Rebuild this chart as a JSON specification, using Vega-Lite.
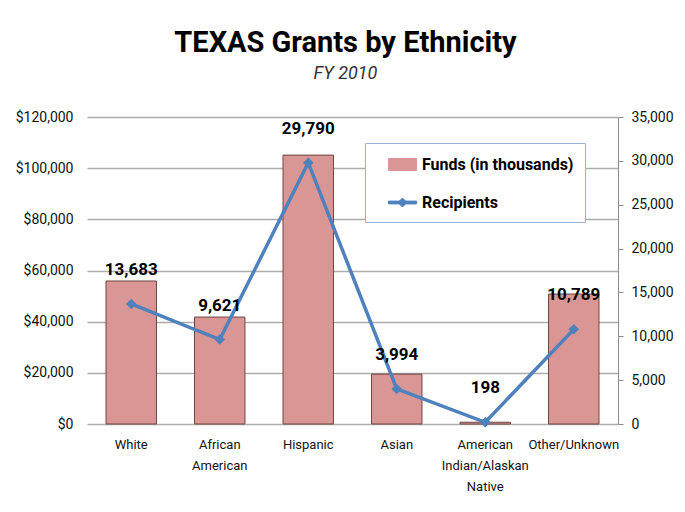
{
  "$schema": "https://vega.github.io/schema/vega-lite/v6.json",
  "width": 531,
  "height": 307,
  "autosize": {"type": "none"},
  "padding": {"left": 87, "top": 117, "right": 67, "bottom": 88},
  "background": "white",
  "title": {
    "text": "TEXAS Grants by Ethnicity",
    "subtitle": "FY 2010",
    "anchor": "middle",
    "dx": -7,
    "font": "Roboto",
    "fontSize": 29,
    "fontWeight": "bold",
    "color": "#000000",
    "subtitleFont": "Roboto",
    "subtitleFontSize": 18,
    "subtitleFontStyle": "italic",
    "subtitleColor": "#333333",
    "subtitlePadding": 7,
    "offset": 27
  },
  "data": {
    "values": [
      {"ethnicity": "White", "funds": 55900, "recipients": 13683},
      {"ethnicity": "African American", "funds": 41800, "recipients": 9621},
      {"ethnicity": "Hispanic", "funds": 105100, "recipients": 29790},
      {"ethnicity": "Asian", "funds": 19500, "recipients": 3994},
      {"ethnicity": "American Indian/Alaskan Native", "funds": 700, "recipients": 198},
      {"ethnicity": "Other/Unknown", "funds": 50800, "recipients": 10789}
    ]
  },
  "encoding": {
    "x": {
      "field": "ethnicity",
      "type": "nominal",
      "sort": null,
      "scale": {"paddingInner": 0.43, "paddingOuter": 0.215},
      "axis": {
        "title": null,
        "domain": false,
        "ticks": false,
        "labelAngle": 0,
        "labelPadding": 14,
        "labelFontSize": 13,
        "labelLineHeight": 21,
        "labelColor": "#111111",
        "labelFont": "Roboto",
        "labelExpr": "datum.value == 'African American' ? ['African', 'American'] : datum.value == 'American Indian/Alaskan Native' ? ['American', 'Indian/Alaskan', 'Native'] : datum.value"
      }
    }
  },
  "layer": [
    {
      "mark": {"type": "bar", "stroke": "#6E4442", "strokeWidth": 1},
      "encoding": {
        "y": {
          "field": "funds",
          "type": "quantitative",
          "scale": {"domain": [0, 120000], "nice": false},
          "axis": {
            "title": null,
            "orient": "left",
            "values": [0, 20000, 40000, 60000, 80000, 100000, 120000],
            "format": "$,.0f",
            "domain": false,
            "ticks": false,
            "labelPadding": 14,
            "labelFontSize": 14,
            "labelColor": "#111111",
            "labelFont": "Roboto",
            "grid": true,
            "gridColor": "#ADADAD",
            "gridWidth": 1.3
          }
        },
        "color": {
          "datum": "Funds (in thousands)",
          "type": "nominal",
          "scale": {"domain": ["Funds (in thousands)", "Recipients"], "range": ["#D99694", "#4F81BD"]},
          "legend": {
            "title": null,
            "orient": "none",
            "legendX": 278,
            "legendY": 26,
            "padding": 11,
            "symbolOffset": 16,
            "strokeColor": "#95B3D7",
            "fillColor": "white",
            "symbolSize": 400,
            "symbolStrokeWidth": 1,
            "symbolOpacity": 1,
            "rowPadding": 19,
            "labelOffset": 9,
            "labelFontSize": 16,
            "labelFontWeight": "bold",
            "labelColor": "#000000",
            "labelFont": "Roboto",
            "labelLimit": 300,
            "encoding": {
              "symbols": {
                "shape": {"value": {"expr": "datum.value == 'Recipients' ? 'M-1.4,-0.14H1.4V0.14H-1.4Z M-0.45,0L0,-0.45L0.45,0L0,0.45Z' : 'M-1.4,-0.6H1.4V0.6H-1.4Z'"}},
                "fill": {"value": {"expr": "datum.value == 'Recipients' ? '#4F81BD' : '#D99694'"}},
                "stroke": {"value": {"expr": "datum.value == 'Recipients' ? '#4F81BD' : '#6E4442'"}}
              }
            }
          }
        }
      }
    },
    {
      "layer": [
        {
          "mark": {"type": "line", "strokeWidth": 3.5, "color": "#4F81BD", "point": {"shape": "diamond", "size": 110, "filled": true, "color": "#4F81BD"}},
          "encoding": {
            "y": {
              "field": "recipients",
              "type": "quantitative",
              "scale": {"domain": [0, 35000], "nice": false},
              "axis": {
                "title": null,
                "orient": "right",
                "values": [0, 5000, 10000, 15000, 20000, 25000, 30000, 35000],
                "format": ",d",
                "grid": false,
                "domain": true,
                "domainColor": "#8C8C8C",
                "ticks": true,
                "tickColor": "#8C8C8C",
                "tickSize": 5,
                "labelPadding": 8,
                "labelFontSize": 14,
                "labelColor": "#111111",
                "labelFont": "Roboto"
              }
            },
            "color": {"datum": "Recipients", "type": "nominal"}
          }
        },
        {
          "mark": {"type": "text", "dy": -34, "fontSize": 17, "fontWeight": "bold", "color": "#000000", "font": "Roboto"},
          "encoding": {
            "y": {"field": "recipients", "type": "quantitative"},
            "text": {"field": "recipients", "type": "quantitative", "format": ",d"}
          }
        }
      ]
    }
  ],
  "resolve": {"scale": {"y": "independent"}},
  "config": {
    "view": {"stroke": null}
  }
}
